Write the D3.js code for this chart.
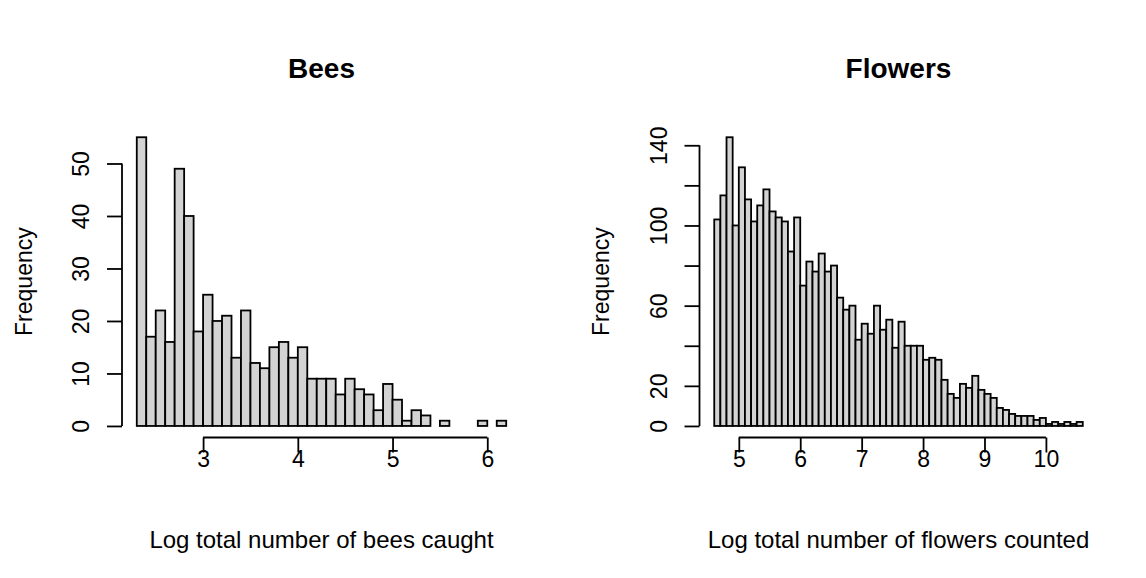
<!DOCTYPE html>
<html>
<head>
<meta charset="utf-8">
<script src="https://cdn.jsdelivr.net/npm/d3@7"></script>
<style>
  html, body { margin: 0; padding: 0; background: #ffffff; }
  svg { display: block; }
</style>
</head>
<body>
<svg id="chart" width="1146" height="578"></svg>
<script>
// Two R-style histograms side by side, bins of width 0.1

// Bees: bins start at 2.3
var beesStart = 2.3;
var beesCounts = [55, 17, 22, 16, 49, 40, 18, 25, 20, 21, 13, 22, 12, 11, 15, 16, 13, 15,
    9, 9, 9, 6, 9, 7, 6, 3, 8, 5, 1, 3, 2, 0, 1, 0, 0, 0, 1, 0, 1];
var beesXTicks = [3, 4, 5, 6];
var beesYTicks = [0, 10, 20, 30, 40, 50];
var beesYLabels = [0, 10, 20, 30, 40, 50];

// Flowers: bins start at 4.6
var flowersStart = 4.6;
var flowersCounts = [103, 115, 144, 100, 129, 113, 102, 110, 118, 107, 104, 102, 87, 104, 70, 82,
    77, 86, 77, 80, 64, 58, 60, 43, 51, 46, 60, 48, 53, 39, 52,
    40, 40, 40, 33, 34, 33, 23, 16, 14, 21, 19, 25, 18, 16, 14,
    9, 8, 6, 5, 5, 5, 3, 4, 1, 2, 1, 2, 1, 2];
var flowersXTicks = [5, 6, 7, 8, 9, 10];
var flowersYTicks = [0, 20, 40, 60, 80, 100, 120, 140];
var flowersYLabels = [0, 20, 60, 100, 140]; // R drops the labels that would collide

var binWidth = 0.1;

var panels = [
    { title: 'Bees', xlab: 'Log total number of bees caught', start: beesStart, counts: beesCounts,
      xTicks: beesXTicks, yTicks: beesYTicks, yLabels: beesYLabels, left: 122, right: 521 },
    { title: 'Flowers', xlab: 'Log total number of flowers counted', start: flowersStart, counts: flowersCounts,
      xTicks: flowersXTicks, yTicks: flowersYTicks, yLabels: flowersYLabels, left: 699.5, right: 1097.5 }
];

var plotTop = 125.7, plotBottom = 437.5;
var font = '"Liberation Sans", Arial, Helvetica, sans-serif';
var lineW = 1.8;

var svg = d3.select('#chart');
svg.append('rect').attr('width', 1146).attr('height', 578).attr('fill', '#ffffff');

panels.forEach(function(p) {
    var bins = p.counts.map(function(c, i) {
        return { x0: p.start + i * binWidth, x1: p.start + (i + 1) * binWidth, n: c };
    });
    var xmin = bins[0].x0, xmax = bins[bins.length - 1].x1;
    var xr = xmax - xmin;
    var ymax = d3.max(p.counts);

    // R pads the user range by 4% on each side
    var x = d3.scaleLinear().domain([xmin - 0.04 * xr, xmax + 0.04 * xr]).range([p.left, p.right]);
    var y = d3.scaleLinear().domain([-0.04 * ymax, 1.04 * ymax]).range([plotBottom, plotTop]);

    var g = svg.append('g');

    g.selectAll('rect.bar')
        .data(bins)
        .enter()
        .append('rect')
        .attr('class', 'bar')
        .attr('x', function(d) { return x(d.x0); })
        .attr('width', function(d) { return x(d.x1) - x(d.x0); })
        .attr('y', function(d) { return y(d.n); })
        .attr('height', function(d) { return y(0) - y(d.n); })
        .attr('fill', '#d3d3d3')
        .attr('stroke', '#000')
        .attr('stroke-width', lineW);

    // bottom axis, line only from first to last tick
    var xAxis = d3.axisBottom(x).tickValues(p.xTicks).tickSize(15).tickSizeOuter(0)
        .tickFormat(d3.format('d'));
    var xg = g.append('g')
        .attr('transform', 'translate(0,' + plotBottom + ')')
        .call(xAxis);
    xg.select('.domain')
        .attr('d', 'M' + x(p.xTicks[0]) + ',0H' + x(p.xTicks[p.xTicks.length - 1]));
    xg.selectAll('.domain, .tick line').attr('stroke', '#000').attr('stroke-width', lineW);
    xg.selectAll('.tick text')
        .attr('y', 29)
        .attr('dy', null)
        .attr('fill', '#000')
        .style('font-family', font)
        .style('font-size', '23px');

    // left axis, labels parallel to the axis
    var yAxis = d3.axisLeft(y).tickValues(p.yTicks).tickSize(15).tickSizeOuter(0)
        .tickFormat(function(d) { return p.yLabels.indexOf(d) !== -1 ? d : ''; });
    var yg = g.append('g')
        .attr('transform', 'translate(' + p.left + ',0)')
        .call(yAxis);
    yg.select('.domain')
        .attr('d', 'M0,' + y(p.yTicks[0]) + 'V' + y(p.yTicks[p.yTicks.length - 1]));
    yg.selectAll('.domain, .tick line').attr('stroke', '#000').attr('stroke-width', lineW);
    yg.selectAll('.tick text')
        .attr('x', null)
        .attr('dy', null)
        .attr('text-anchor', 'middle')
        .attr('transform', 'translate(-33,0) rotate(-90)')
        .attr('fill', '#000')
        .style('font-family', font)
        .style('font-size', '23px');

    // titles
    var cx = (p.left + p.right) / 2;
    g.append('text')
        .attr('x', cx)
        .attr('y', 77.5)
        .attr('text-anchor', 'middle')
        .style('font-family', font)
        .style('font-size', '28px')
        .style('font-weight', 'bold')
        .text(p.title);

    g.append('text')
        .attr('x', cx)
        .attr('y', 548)
        .attr('text-anchor', 'middle')
        .style('font-family', font)
        .style('font-size', '24px')
        .text(p.xlab);

    g.append('text')
        .attr('transform', 'translate(' + (p.left - 90.5) + ',' + ((plotTop + plotBottom) / 2) + ') rotate(-90)')
        .attr('text-anchor', 'middle')
        .style('font-family', font)
        .style('font-size', '23px')
        .text('Frequency');
});
</script>
</body>
</html>
